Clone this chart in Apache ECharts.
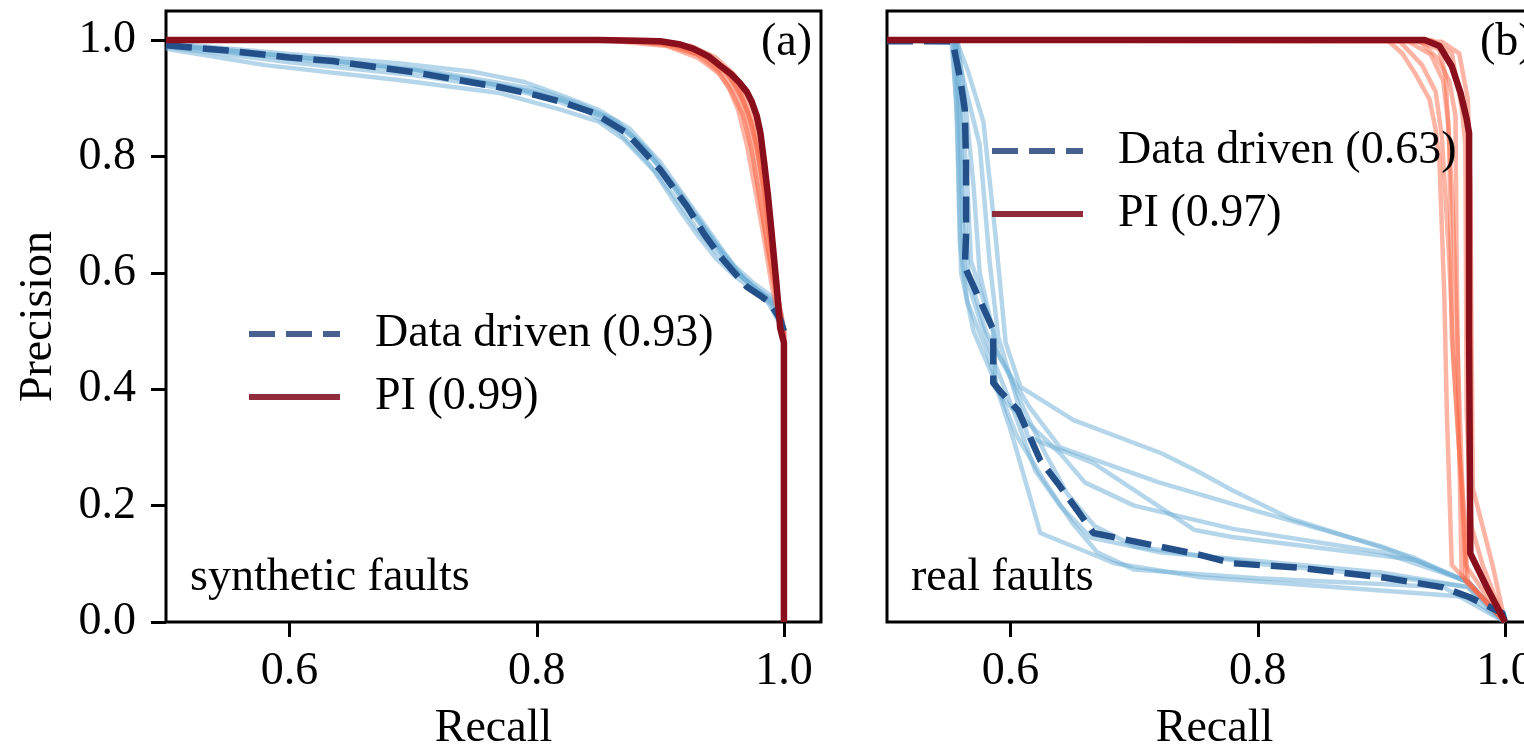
<!DOCTYPE html>
<html>
<head>
<meta charset="utf-8">
<script src="https://cdn.jsdelivr.net/npm/echarts@6/dist/echarts.min.js"></script>
<style>
html,body{margin:0;padding:0;background:#fff;}
#chart{width:1524px;height:749px;}
</style>
</head>
<body>
<div id="chart"></div>
<script>
// ---------------- DATA ----------------
const xTicks = [0.6, 0.8, 1.0];
const yTicks = [0.0, 0.2, 0.4, 0.6, 0.8, 1.0];
const xRange = [0.5, 1.03];
const yRange = [0, 1.05];

const panelTags = ['(a)', '(b)'];
const panelNames = ['synthetic faults', 'real faults'];
const legendSyn = ['Data driven (0.93)', 'PI (0.99)'];
const legendReal = ['Data driven (0.63)', 'PI (0.97)'];

// synthetic faults – data driven mean (dashed)
const synDDMean = [[0.5,0.991],[0.55,0.982],[0.6,0.970],[0.635,0.964],[0.7,0.945],[0.77,0.919],[0.8,0.905],[0.821,0.893],[0.846,0.875],[0.873,0.840],[0.9,0.777],[0.922,0.713],[0.935,0.668],[0.949,0.627],[0.96,0.6],[0.97,0.576],[0.98,0.562],[0.989,0.548],[0.997,0.52],[1.0,0.5]];
// synthetic faults – data driven runs
const synDDRuns = [
  [[0.5,0.995],[0.6,0.976],[0.69,0.96],[0.75,0.945],[0.79,0.928],[0.82,0.905],[0.85,0.88],[0.875,0.848],[0.9,0.79],[0.92,0.73],[0.935,0.685],[0.95,0.64],[0.965,0.595],[0.98,0.568],[0.995,0.54],[1,0.5]],
  [[0.5,0.985],[0.58,0.957],[0.69,0.931],[0.77,0.909],[0.82,0.88],[0.85,0.86],[0.87,0.83],[0.895,0.775],[0.915,0.71],[0.93,0.665],[0.945,0.625],[0.96,0.595],[0.975,0.57],[0.99,0.545],[1,0.5]],
  [[0.5,0.99],[0.6,0.968],[0.7,0.948],[0.78,0.918],[0.82,0.897],[0.86,0.862],[0.885,0.82],[0.905,0.765],[0.925,0.705],[0.94,0.66],[0.955,0.618],[0.97,0.585],[0.985,0.56],[0.998,0.53],[1,0.5]],
  [[0.5,0.993],[0.6,0.972],[0.7,0.95],[0.8,0.91],[0.83,0.89],[0.86,0.865],[0.88,0.83],[0.9,0.78],[0.92,0.72],[0.938,0.67],[0.952,0.628],[0.968,0.59],[0.985,0.558],[1,0.5]],
  [[0.5,0.988],[0.6,0.962],[0.7,0.94],[0.78,0.915],[0.81,0.9],[0.84,0.878],[0.865,0.845],[0.89,0.79],[0.91,0.735],[0.928,0.68],[0.945,0.635],[0.962,0.6],[0.978,0.572],[0.993,0.55],[1,0.5]],
  [[0.5,0.992],[0.62,0.968],[0.72,0.945],[0.8,0.915],[0.835,0.89],[0.865,0.86],[0.89,0.81],[0.91,0.755],[0.93,0.695],[0.945,0.65],[0.96,0.612],[0.975,0.583],[0.99,0.56],[1,0.5]]
];
// synthetic faults – PI mean
const synPIMean = [[0.5,1.0],[0.85,1.0],[0.9,0.998],[0.915,0.993],[0.927,0.985],[0.939,0.972],[0.949,0.955],[0.957,0.942],[0.964,0.927],[0.970,0.911],[0.974,0.894],[0.978,0.87],[0.981,0.84],[0.984,0.79],[0.987,0.735],[0.990,0.67],[0.994,0.58],[0.997,0.505],[1.0,0.48],[1.0,0.0]];
// synthetic faults – PI runs
const synPIRuns = [
  [[0.5,1],[0.86,1],[0.9,0.994],[0.93,0.975],[0.945,0.95],[0.955,0.92],[0.963,0.88],[0.970,0.82],[0.977,0.74],[0.983,0.67],[0.99,0.58],[0.997,0.51],[1,0.49],[1,0]],
  [[0.5,1],[0.87,1],[0.91,0.993],[0.935,0.972],[0.952,0.94],[0.962,0.905],[0.970,0.855],[0.976,0.79],[0.982,0.71],[0.988,0.63],[0.995,0.54],[1,0.5],[1,0]],
  [[0.5,1],[0.88,1],[0.915,0.993],[0.94,0.972],[0.955,0.945],[0.965,0.91],[0.973,0.86],[0.979,0.8],[0.984,0.73],[0.99,0.64],[0.996,0.55],[1,0.5],[1,0]],
  [[0.5,1],[0.86,0.999],[0.905,0.99],[0.93,0.97],[0.948,0.942],[0.958,0.91],[0.967,0.87],[0.974,0.81],[0.981,0.72],[0.987,0.64],[0.994,0.56],[1,0.5],[1,0]],
  [[0.5,1],[0.88,1],[0.92,0.99],[0.94,0.968],[0.956,0.938],[0.966,0.9],[0.975,0.85],[0.981,0.78],[0.986,0.7],[0.991,0.62],[0.996,0.54],[1,0.5],[1,0]],
  [[0.5,1],[0.87,1],[0.912,0.99],[0.938,0.97],[0.953,0.945],[0.963,0.915],[0.971,0.875],[0.978,0.815],[0.984,0.74],[0.989,0.66],[0.995,0.56],[1,0.5],[1,0]],
  [[0.5,1],[0.89,1],[0.925,0.99],[0.945,0.97],[0.96,0.94],[0.969,0.905],[0.976,0.86],[0.982,0.79],[0.987,0.71],[0.992,0.62],[0.997,0.53],[1,0.5],[1,0]]
];

// real faults – data driven mean
const realDDMean = [[0.5,0.998],[0.553,0.998],[0.559,0.936],[0.563,0.88],[0.564,0.78],[0.564,0.668],[0.563,0.61],[0.586,0.502],[0.586,0.411],[0.593,0.393],[0.606,0.364],[0.624,0.278],[0.638,0.239],[0.654,0.192],[0.667,0.153],[0.706,0.136],[0.754,0.115],[0.779,0.101],[0.835,0.093],[0.903,0.076],[0.949,0.06],[0.971,0.043],[0.998,0.015],[1.0,0.0]];
// real faults – data driven runs
const realDDRuns = [
  [[0.5,1],[0.556,1],[0.565,0.95],[0.578,0.86],[0.588,0.66],[0.596,0.48],[0.608,0.404],[0.651,0.347],[0.722,0.29],[0.754,0.256],[0.779,0.227],[0.825,0.179],[0.927,0.11],[0.971,0.067],[1,0]],
  [[0.5,1],[0.555,1],[0.562,0.93],[0.575,0.82],[0.583,0.62],[0.59,0.49],[0.614,0.318],[0.667,0.273],[0.749,0.158],[0.779,0.146],[0.927,0.107],[0.971,0.067],[1,0]],
  [[0.5,1],[0.552,1],[0.556,0.9],[0.558,0.75],[0.56,0.6],[0.57,0.5],[0.586,0.42],[0.6,0.33],[0.615,0.22],[0.624,0.153],[0.684,0.101],[0.754,0.077],[0.971,0.043],[1,0]],
  [[0.5,1],[0.553,1],[0.557,0.85],[0.559,0.65],[0.565,0.55],[0.58,0.47],[0.59,0.4],[0.605,0.32],[0.625,0.25],[0.65,0.17],[0.67,0.12],[0.7,0.09],[0.8,0.075],[0.95,0.06],[1,0]],
  [[0.5,1],[0.554,1],[0.56,0.9],[0.565,0.75],[0.568,0.62],[0.586,0.5],[0.588,0.4],[0.6,0.37],[0.62,0.33],[0.64,0.29],[0.66,0.24],[0.7,0.2],[0.78,0.16],[0.9,0.12],[0.97,0.07],[1,0]],
  [[0.5,1],[0.555,0.995],[0.558,0.88],[0.561,0.7],[0.563,0.6],[0.575,0.52],[0.588,0.44],[0.603,0.36],[0.62,0.26],[0.64,0.2],[0.665,0.145],[0.72,0.12],[0.8,0.105],[0.9,0.085],[0.97,0.06],[1,0]],
  [[0.5,1],[0.556,1],[0.559,0.9],[0.562,0.72],[0.566,0.6],[0.58,0.5],[0.6,0.42],[0.612,0.36],[0.628,0.29],[0.646,0.22],[0.668,0.165],[0.7,0.13],[0.8,0.1],[0.9,0.08],[0.97,0.06],[1,0]],
  [[0.5,1],[0.557,1],[0.563,0.9],[0.57,0.75],[0.575,0.6],[0.59,0.46],[0.615,0.37],[0.64,0.3],[0.68,0.27],[0.72,0.24],[0.8,0.19],[0.9,0.13],[0.97,0.07],[1,0]]
];
// real faults – PI mean
const realPIMean = [[0.5,1],[0.935,1],[0.947,0.99],[0.957,0.955],[0.964,0.91],[0.969,0.865],[0.971,0.84],[0.971,0.5],[0.972,0.118],[0.986,0.057],[1,0]];
// real faults – PI runs
const realPIRuns = [
  [[0.5,1],[0.9,1],[0.906,0.998],[0.917,0.977],[0.927,0.944],[0.939,0.898],[0.944,0.846],[0.947,0.793],[0.951,0.557],[0.953,0.36],[0.955,0.23],[0.957,0.098],[1,0]],
  [[0.5,1],[0.914,1],[0.933,0.957],[0.944,0.911],[0.949,0.833],[0.955,0.62],[0.959,0.43],[0.964,0.26],[0.968,0.098],[1,0]],
  [[0.5,1],[0.927,1],[0.947,0.984],[0.952,0.938],[0.955,0.82],[0.957,0.49],[0.963,0.295],[0.968,0.164],[0.968,0.07],[1,0]],
  [[0.5,1],[0.941,1],[0.957,0.977],[0.965,0.885],[0.968,0.82],[0.969,0.36],[0.973,0.164],[0.982,0.098],[1,0]],
  [[0.5,1],[0.949,0.997],[0.963,0.977],[0.97,0.898],[0.972,0.754],[0.974,0.23],[0.99,0.098],[1,0]],
  [[0.5,1],[0.93,1],[0.945,0.97],[0.955,0.93],[0.96,0.87],[0.961,0.6],[0.963,0.3],[0.965,0.08],[1,0]],
  [[0.5,1],[0.92,1],[0.94,0.975],[0.95,0.93],[0.954,0.86],[0.958,0.7],[0.962,0.45],[0.966,0.2],[0.97,0.07],[1,0]]
];

// ---------------- STYLE ----------------
const FONT = '"Liberation Serif", "DejaVu Serif", serif';
const FS = 46;
const C_LBLUE = 'rgba(107,174,214,0.5)';
const C_LRED = 'rgba(251,106,74,0.5)';
const C_DBLUE = '#24508a';
const C_DRED = '#8a0f1d';
const DASH = [26, 11];

function runSeries(runs, color, gi) {
  return runs.map(function (d) {
    return {
      type: 'line', xAxisIndex: gi, yAxisIndex: gi, data: d,
      symbol: 'none', silent: true, z: 2,
      lineStyle: { color: color, width: 4.5 }
    };
  });
}
function meanSeries(name, d, color, dashed, gi, z) {
  return {
    type: 'line', name: name, xAxisIndex: gi, yAxisIndex: gi, data: d,
    symbol: 'none', silent: true, z: z,
    itemStyle: { color: color },
    lineStyle: { color: color, width: 6.5, type: dashed ? DASH : 'solid', cap: 'butt', join: 'round' }
  };
}

const series = [].concat(
  runSeries(synDDRuns, C_LBLUE, 0),
  [meanSeries(legendSyn[0], synDDMean, C_DBLUE, true, 0, 3)],
  runSeries(synPIRuns, C_LRED, 0),
  [meanSeries(legendSyn[1], synPIMean, C_DRED, false, 0, 4)],
  runSeries(realDDRuns, C_LBLUE, 1),
  [meanSeries(legendReal[0], realDDMean, C_DBLUE, true, 1, 3)],
  runSeries(realPIRuns, C_LRED, 1),
  [meanSeries(legendReal[1], realPIMean, C_DRED, false, 1, 4)]
);

function xAxisFor(gi) {
  return {
    type: 'value', gridIndex: gi, min: xRange[0], max: xRange[1],
    name: 'Recall', nameLocation: 'middle', nameGap: 84,
    nameTextStyle: { fontFamily: FONT, fontSize: FS, color: '#000' },
    axisLine: { show: false },
    splitLine: { show: false },
    axisTick: { show: true, inside: false, length: 15, customValues: xTicks, lineStyle: { color: '#000', width: 3 } },
    axisLabel: { show: true, customValues: xTicks, margin: 27, fontFamily: FONT, fontSize: FS, color: '#000',
      formatter: function (v) { return v.toFixed(1); } }
  };
}
function yAxisFor(gi) {
  const show = gi === 0;
  return {
    type: 'value', gridIndex: gi, min: yRange[0], max: yRange[1],
    name: show ? 'Precision' : '', nameLocation: 'middle', nameGap: 104, nameRotate: 90,
    nameTextStyle: { fontFamily: FONT, fontSize: FS, color: '#000' },
    axisLine: { show: false },
    splitLine: { show: false },
    axisTick: { show: show, inside: false, length: 15, customValues: yTicks, lineStyle: { color: '#000', width: 3 } },
    axisLabel: { show: show, customValues: yTicks, margin: 30, fontFamily: FONT, fontSize: FS, color: '#000',
      formatter: function (v) { return v.toFixed(1); } }
  };
}

function legendFor(names, left, top) {
  return {
    orient: 'vertical', left: left, top: top,
    itemWidth: 91, itemHeight: 20, itemGap: 17,
    selectedMode: false,
    data: [
      { name: names[0], lineStyle: { color: '#46618f', width: 6, type: DASH }, itemStyle: { opacity: 0, color: 'rgba(0,0,0,0)', borderWidth: 0 } },
      { name: names[1], lineStyle: { color: '#8f2b3b', width: 6, type: 'solid' }, itemStyle: { opacity: 0, color: 'rgba(0,0,0,0)', borderWidth: 0 } }
    ],
    textStyle: { fontFamily: FONT, fontSize: FS, color: '#000', padding: [0, 0, 0, 30] }
  };
}

const txt = { fontFamily: FONT, fontSize: FS, color: '#000', fontWeight: 'normal' };

const gridBase = { top: 11, width: 655, height: 611, show: true, borderColor: '#000', borderWidth: 3,
  backgroundColor: 'transparent', outerBoundsMode: 'none', containLabel: false };

const option = {
  animation: false,
  backgroundColor: '#fff',
  grid: [
    Object.assign({ left: 166 }, gridBase),
    Object.assign({ left: 887 }, gridBase)
  ],
  xAxis: [xAxisFor(0), xAxisFor(1)],
  yAxis: [yAxisFor(0), yAxisFor(1)],
  legend: [legendFor(legendSyn, 241, 306), legendFor(legendReal, 984, 123)],
  title: [
    { text: panelTags[0], right: 1524 - 812, top: 20, textStyle: txt, padding: 0 },
    { text: panelTags[1], left: 1480, top: 20, textStyle: txt, padding: 0 },
    { text: panelNames[0], left: 190, top: 555, textStyle: txt, padding: 0 },
    { text: panelNames[1], left: 911, top: 555, textStyle: txt, padding: 0 }
  ],
  series: series
};

const chart = echarts.init(document.getElementById('chart'), null, { renderer: 'canvas' });
chart.setOption(option);
</script>
</body>
</html>
